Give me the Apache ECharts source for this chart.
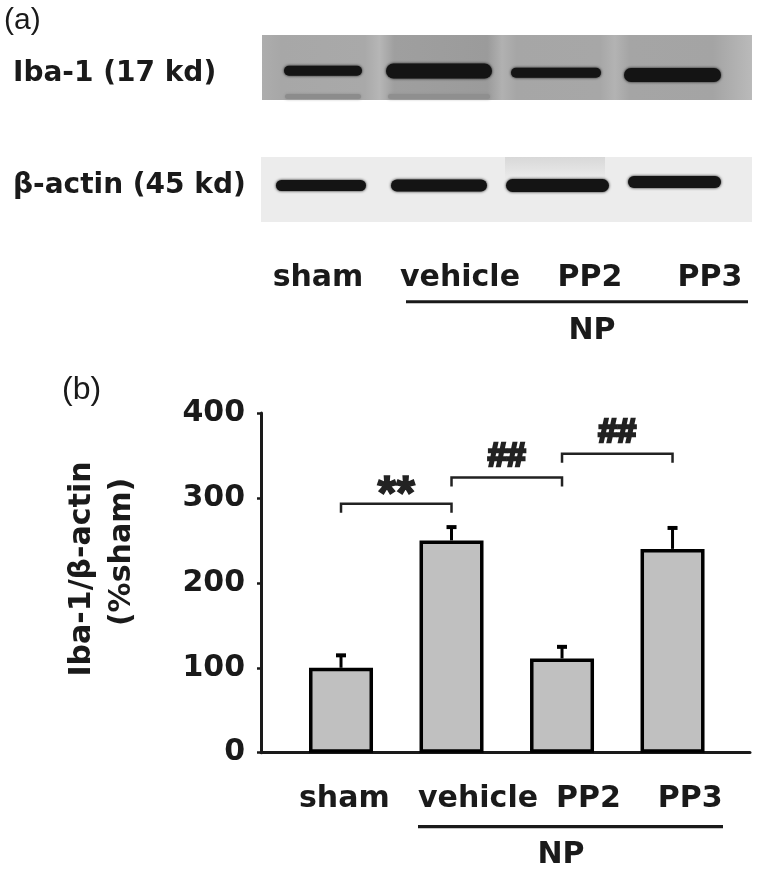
<!DOCTYPE html>
<html><head><meta charset="utf-8">
<script src="https://cdn.jsdelivr.net/npm/echarts@6/dist/echarts.min.js"></script>
<style>html,body{margin:0;padding:0;background:#fff}#c{width:758px;height:872px}</style>
</head><body><div id="c"></div>
<script>
// ---- data ----
const categories = ['sham', 'vehicle', 'PP2', 'PP3'];
const means = [100, 250, 111, 240];
const errors = [17, 18, 16, 27];
const yTicks = [0, 100, 200, 300, 400];
const sigPairs = [[0, 1], [1, 2], [2, 3]];
const sigHeights = [293, 324, 352];
const sigLabels = ['**', '##', '##'];
const blotLabels = ['Iba-1 (17 kd)', 'β-actin (45 kd)'];
const groupLabel = 'NP';

// ---- layout (not data) ----
const labelPos = [0.03, 1.24, 2.24, 3.16];
const BOLD = '"DejaVu Sans", "Liberation Sans", sans-serif';
const INK = '#1a1a1a';

function txt(text, x, y, size, align, weight, family, rot) {
  return {
    type: 'text', x: x, y: y, rotation: rot || 0, z: 10,
    style: {
      text: text, fill: INK,
      font: (weight || 'bold') + ' ' + size + 'px ' + (family || BOLD),
      textAlign: align || 'center', textVerticalAlign: 'middle'
    }
  };
}
function band(x1, x2, cy, h, color, blur) {
  return {
    type: 'rect', z: 3,
    shape: { x: x1, y: cy - h / 2, width: x2 - x1, height: h, r: h / 2 },
    style: { fill: color || '#141414', shadowBlur: blur == null ? 3 : blur, shadowColor: color || '#141414' }
  };
}

const graphics = [
  txt('(a)', 4, 21, 30, 'left', 'normal', '"Liberation Sans", Arial, sans-serif'),
  txt(blotLabels[0], 13, 74, 28, 'left'),
  txt(blotLabels[1], 13, 186, 28, 'left'),
  // top blot background
  {
    type: 'rect', z: 1, shape: { x: 262, y: 35, width: 490, height: 65 },
    style: {
      fill: {
        type: 'linear', x: 0, y: 0, x2: 1, y2: 0, colorStops: [
          { offset: 0.00, color: '#adadad' },
          { offset: 0.04, color: '#a7a7a7' },
          { offset: 0.21, color: '#a9a9a9' },
          { offset: 0.24, color: '#b6b6b6' },
          { offset: 0.27, color: '#9f9f9f' },
          { offset: 0.46, color: '#9b9b9b' },
          { offset: 0.49, color: '#b1b1b1' },
          { offset: 0.52, color: '#a6a6a6' },
          { offset: 0.69, color: '#a7a7a7' },
          { offset: 0.72, color: '#b3b3b3' },
          { offset: 0.75, color: '#a5a5a5' },
          { offset: 0.92, color: '#a4a4a4' },
          { offset: 1.00, color: '#bababa' }
        ]
      }
    }
  },
  band(285, 361, 96.5, 5, '#8c8c8c', 3),
  band(388, 490, 96.5, 5, '#8f8f8f', 3),
  band(284, 362, 70.7, 10),
  band(386, 492, 71, 15),
  band(511, 601, 72.7, 10),
  band(624, 721, 75, 14),
  // bottom blot background
  { type: 'rect', z: 1, shape: { x: 261, y: 157, width: 491, height: 65 }, style: { fill: '#ececec' } },
  {
    type: 'rect', z: 2, shape: { x: 505, y: 157, width: 100, height: 22 },
    style: { fill: { type: 'linear', x: 0, y: 0, x2: 0, y2: 1, colorStops: [{ offset: 0, color: '#d8d8d8' }, { offset: 1, color: '#ebebeb' }] } }
  },
  band(276, 366, 185.5, 11),
  band(391, 487, 185.5, 12),
  band(506, 609, 185.5, 13),
  band(628, 721, 182, 12),
  // top lane labels
  txt(categories[0], 318, 278, 30),
  txt(categories[1], 460, 278, 30),
  txt(categories[2], 590, 278, 30),
  txt(categories[3], 710, 278, 30),
  { type: 'rect', z: 5, shape: { x: 406, y: 300.3, width: 342, height: 3 }, style: { fill: INK } },
  txt(groupLabel, 592, 331, 30),
  // panel b
  txt('(b)', 62, 390, 32, 'left', 'normal', '"Liberation Sans", Arial, sans-serif'),
  txt('Iba-1/β-actin', 82, 569, 30, 'center', 'bold', BOLD, Math.PI / 2),
  txt('(%sham)', 122, 552, 30, 'center', 'bold', BOLD, Math.PI / 2),
  { type: 'rect', z: 5, shape: { x: 418, y: 825, width: 305, height: 3.3 }, style: { fill: INK } },
  txt(groupLabel, 561, 855, 30)
];

const chart = echarts.init(document.getElementById('c'), null, { renderer: 'canvas' });
chart.setOption({
  animation: false,
  backgroundColor: '#fff',
  grid: { left: 261, right: 8, top: 413, bottom: 119.3, containLabel: false, outerBoundsMode: 'none' },
  xAxis: {
    type: 'value', min: -0.724, max: 3.701,
    splitLine: { show: false },
    axisTick: { show: false },
    axisLine: { show: true, onZero: false, lineStyle: { color: INK, width: 3 } },
    axisLabel: {
      customValues: labelPos, margin: 32,
      fontFamily: BOLD, fontWeight: 'bold', fontSize: 30, color: INK,
      formatter: function (v) {
        let best = 0;
        labelPos.forEach(function (p, i) { if (Math.abs(p - v) < Math.abs(labelPos[best] - v)) best = i; });
        return categories[best];
      }
    }
  },
  yAxis: {
    type: 'value', min: yTicks[0], max: yTicks[yTicks.length - 1], interval: 100,
    splitLine: { show: false },
    axisLine: { show: true, onZero: false, lineStyle: { color: INK, width: 3 } },
    axisTick: { show: true, length: 4, lineStyle: { color: INK, width: 2.5 } },
    axisLabel: { margin: 16, fontFamily: BOLD, fontWeight: 'bold', fontSize: 30, color: INK }
  },
  series: [
    {
      type: 'bar', barWidth: 64, z: 2,
      data: means.map(function (m, i) { return [i, m]; }),
      itemStyle: { color: '#c0c0c0', borderColor: '#000', borderWidth: 3.5 }
    },
    {
      type: 'custom', z: 3, clip: false,
      data: means.map(function (m, i) { return [i, m, errors[i]]; }),
      encode: { x: 0, y: 1 },
      renderItem: function (params, api) {
        const x = api.value(0), m = api.value(1), e = api.value(2);
        const b = api.coord([x, m]);
        const t = api.coord([x, m + e]);
        return {
          type: 'group', children: [
            { type: 'line', shape: { x1: b[0], y1: b[1], x2: t[0], y2: t[1] + 2 }, style: { stroke: '#000', lineWidth: 3 } },
            { type: 'rect', shape: { x: t[0] - 5, y: t[1], width: 10, height: 4 }, style: { fill: '#000' } }
          ]
        };
      }
    },
    {
      type: 'custom', z: 4, clip: false,
      data: sigPairs.map(function (p, i) { return [p[0], sigHeights[i], p[1]]; }),
      encode: { x: 0, y: 1 },
      renderItem: function (params, api) {
        const i0 = api.value(0), h = api.value(1), i1 = api.value(2);
        const a = api.coord([i0, h]);
        const b = api.coord([i1, h]);
        const lab = sigLabels[params.dataIndex];
        const star = lab.indexOf('*') >= 0;
        return {
          type: 'group', children: [
            {
              type: 'polyline',
              shape: { points: [[a[0], a[1] + 9], [a[0], a[1]], [b[0], b[1]], [b[0], b[1] + 9]] },
              style: { stroke: '#222', lineWidth: 2.5, fill: null }
            },
            {
              type: 'text', x: (a[0] + b[0]) / 2, y: a[1] - (star ? 8 : 21),
              style: {
                text: lab, fill: '#222', stroke: '#222', lineWidth: star ? 1.5 : 2.5,
                font: 'bold ' + (star ? 48 : 34) + 'px "Liberation Sans", Arial, sans-serif',
                textAlign: 'center', textVerticalAlign: 'middle'
              }
            }
          ]
        };
      }
    }
  ],
  graphic: graphics
});
</script>
</body></html>
